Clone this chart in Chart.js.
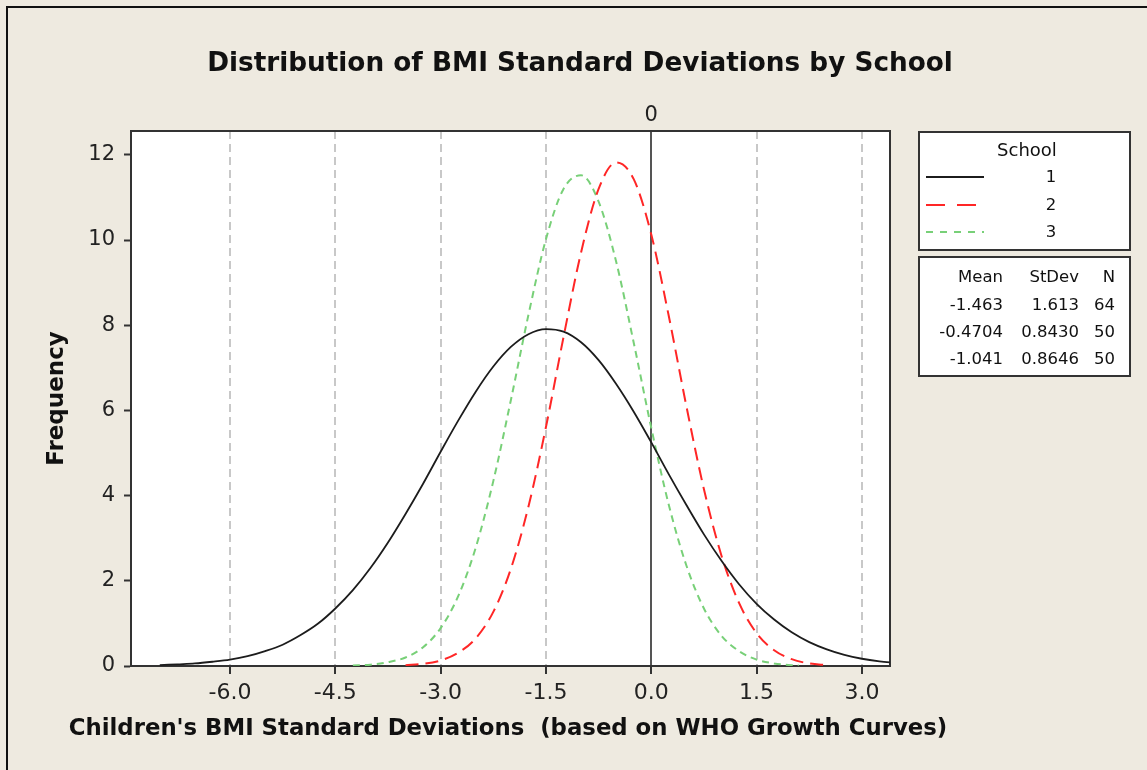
<!DOCTYPE html>
<html>
<head>
<meta charset="utf-8">
<script src="https://cdn.jsdelivr.net/npm/chart.js@4.4.1/dist/chart.umd.min.js"></script>
<style>
  html, body { margin: 0; padding: 0; background: #EEEAE0; }
  #wrap { position: relative; width: 1147px; height: 770px; background: #EEEAE0; overflow: hidden; font-family: "DejaVu Sans", Verdana, sans-serif; color: #111; }
  #frame { position: absolute; left: 6px; top: 6px; width: 1200px; height: 800px; border-left: 2px solid #111; border-top: 2px solid #111; pointer-events: none; }
  #chart { position: absolute; left: 0; top: 0; }
  #title { position: absolute; left: 0; width: 1160px; top: 46px; line-height: 32px; text-align: center; font-weight: bold; font-size: 26.3px; }
  #xtitle { position: absolute; left: 0; width: 1016px; top: 712px; line-height: 30px; text-align: center; font-weight: bold; font-size: 22.8px; white-space: pre; }
  .box { position: absolute; left: 918px; width: 209px; border: 2px solid #333; background: #fff; }
  .t { position: absolute; font-size: 16.5px; line-height: 20px; white-space: nowrap; }
</style>
</head>
<body>
<div id="wrap">
  <canvas id="chart" width="1147" height="770"></canvas>
  <div id="title">Distribution of BMI Standard Deviations by School</div>
  <div id="xtitle"></div>
  <div class="box" id="legendBox" style="top:131px;height:116px;"></div>
  <div class="box" id="statsBox" style="top:256px;height:117px;"></div>
  <div id="frame"></div>
</div>
<script>
// ---- Data ----
const schools = ['1', '2', '3'];
const means = ['-1.463', '-0.4704', '-1.041'];
const stdevs = ['1.613', '0.8430', '0.8646'];
const counts = ['64', '50', '50'];

const xTickValues = [-6.0, -4.5, -3.0, -1.5, 0.0, 1.5, 3.0];
const yTickValues = [0, 2, 4, 6, 8, 10, 12];
const refLineValues = [0];
const xAxisTitle = "Children's BMI Standard Deviations  (based on WHO Growth Curves)";
const yAxisTitle = 'Frequency';

// School 1 curve
const school1X = [-7.0, -6.75, -6.5, -6.25, -6.0, -5.75, -5.5, -5.25, -5.0, -4.75, -4.5, -4.25, -4.0, -3.75, -3.5, -3.25, -3.0, -2.75, -2.5, -2.25, -2.0, -1.75, -1.5, -1.25, -1.0, -0.75, -0.5, -0.25, 0.0, 0.25, 0.5, 0.75, 1.0, 1.25, 1.5, 1.75, 2.0, 2.25, 2.5, 2.75, 3.0, 3.25, 3.5];
const school1Y = [0.02, 0.04, 0.06, 0.10, 0.15, 0.23, 0.35, 0.50, 0.72, 0.99, 1.35, 1.78, 2.30, 2.90, 3.57, 4.28, 5.03, 5.76, 6.44, 7.03, 7.49, 7.79, 7.91, 7.85, 7.60, 7.18, 6.62, 5.97, 5.25, 4.50, 3.78, 3.09, 2.47, 1.92, 1.46, 1.09, 0.79, 0.56, 0.39, 0.26, 0.17, 0.11, 0.07];

// School 2 curve
const school2X = [-3.5, -3.25, -3.0, -2.75, -2.5, -2.25, -2.0, -1.75, -1.5, -1.25, -1.0, -0.75, -0.5, -0.25, 0.0, 0.25, 0.5, 0.75, 1.0, 1.25, 1.5, 1.75, 2.0, 2.25, 2.5];
const school2Y = [0.02, 0.05, 0.13, 0.31, 0.65, 1.27, 2.28, 3.74, 5.61, 7.72, 9.71, 11.20, 11.82, 11.43, 10.13, 8.21, 6.10, 4.15, 2.59, 1.48, 0.77, 0.37, 0.16, 0.06, 0.02];

// School 3 curve
const school3X = [-4.25, -4.0, -3.75, -3.5, -3.25, -3.0, -2.75, -2.5, -2.25, -2.0, -1.75, -1.5, -1.25, -1.0, -0.75, -0.5, -0.25, 0.0, 0.25, 0.5, 0.75, 1.0, 1.25, 1.5, 1.75, 2.0, 2.1];
const school3Y = [0.01, 0.03, 0.09, 0.20, 0.44, 0.89, 1.64, 2.78, 4.34, 6.24, 8.24, 10.02, 11.20, 11.52, 10.90, 9.49, 7.59, 5.59, 3.78, 2.36, 1.35, 0.71, 0.35, 0.15, 0.06, 0.02, 0.01];

// ---- Styles ----
const seriesStyles = [
  { color: '#1c1c1c', width: 1.8, dash: [] },
  { color: '#ff2626', width: 2, dash: [13, 7] },
  { color: '#78d078', width: 2, dash: [7, 5] }
];
const seriesX = [school1X, school2X, school3X];
const seriesY = [school1Y, school2Y, school3Y];

const FONT = '"DejaVu Sans", Verdana, sans-serif';

document.getElementById('xtitle').textContent = xAxisTitle;

const datasets = schools.map((s, i) => ({
  label: s,
  data: seriesX[i].map((x, j) => ({ x: x, y: seriesY[i][j] })),
  borderColor: seriesStyles[i].color,
  borderWidth: seriesStyles[i].width,
  borderDash: seriesStyles[i].dash,
  pointRadius: 0,
  fill: false,
  cubicInterpolationMode: 'monotone',
  xAxisID: 'x',
  yAxisID: 'y'
}));

const whiteArea = {
  id: 'whiteArea',
  beforeDraw(chart) {
    const a = chart.chartArea, ctx = chart.ctx;
    ctx.save();
    ctx.fillStyle = '#ffffff';
    ctx.fillRect(a.left, a.top, a.right - a.left, a.bottom - a.top);
    ctx.restore();
  }
};

new Chart(document.getElementById('chart'), {
  type: 'line',
  data: { datasets: datasets },
  plugins: [whiteArea],
  options: {
    responsive: false,
    animation: false,
    devicePixelRatio: 1,
    layout: { padding: 0 },
    plugins: { legend: { display: false }, tooltip: { enabled: false }, title: { display: false } },
    scales: {
      x: {
        type: 'linear', position: 'bottom', min: -7.41, max: 3.40,
        afterBuildTicks: s => { s.ticks = xTickValues.map(v => ({ value: v })); },
        afterFit: s => { s.height = 104; },
        ticks: { callback: v => Number(v).toFixed(1), font: { family: FONT, size: 22 }, color: '#222', padding: 6, maxRotation: 0, autoSkip: false },
        grid: { color: '#c8c8c8', lineWidth: 2, tickColor: '#333', tickLength: 8, tickWidth: 2, drawOnChartArea: true },
        border: { display: true, color: '#333', width: 2, dash: [8, 5] }
      },
      xt: {
        type: 'linear', position: 'top', min: -7.41, max: 3.40,
        afterBuildTicks: s => { s.ticks = refLineValues.map(v => ({ value: v })); },
        afterFit: s => { s.height = 131; },
        ticks: { callback: v => String(v), font: { family: FONT, size: 21 }, color: '#222', padding: 3, maxRotation: 0, autoSkip: false },
        grid: { color: '#555', lineWidth: 2, drawTicks: false, drawOnChartArea: true },
        border: { display: true, color: '#333', width: 2 }
      },
      y: {
        type: 'linear', position: 'left', min: 0, max: 12.56,
        afterBuildTicks: s => { s.ticks = yTickValues.map(v => ({ value: v })); },
        afterFit: s => { s.width = 131; },
        ticks: { font: { family: FONT, size: 21 }, color: '#222', padding: 9 },
        grid: { drawOnChartArea: false, tickLength: 7, tickWidth: 2, tickColor: '#333' },
        border: { display: true, color: '#333', width: 2 },
        title: { display: true, text: yAxisTitle, font: { family: FONT, size: 23, weight: 'bold' }, color: '#111', padding: { top: 43, bottom: 0 } }
      },
      yr: {
        type: 'linear', position: 'right', min: 0, max: 1,
        afterFit: s => { s.width = 257; },
        ticks: { display: false },
        grid: { display: false },
        border: { display: true, color: '#333', width: 2 }
      }
    }
  }
});

// ---- Legend and statistics boxes (HTML text) ----
const legendBox = document.getElementById('legendBox');
const statsBox = document.getElementById('statsBox');
function addText(parent, text, css) {
  const d = document.createElement('div');
  d.className = 't';
  d.textContent = text;
  d.style.cssText = css;
  parent.appendChild(d);
  return d;
}
addText(legendBox, 'School', 'left:0;width:214px;text-align:center;top:6px;font-size:18px;line-height:22px;');
const legendRows = [44, 72, 99];
schools.forEach((s, i) => {
  const svgNS = 'http://www.w3.org/2000/svg';
  const svg = document.createElementNS(svgNS, 'svg');
  svg.setAttribute('width', '60');
  svg.setAttribute('height', '6');
  svg.style.cssText = 'position:absolute;left:6px;top:' + (legendRows[i] - 3) + 'px;';
  const ln = document.createElementNS(svgNS, 'line');
  ln.setAttribute('x1', '0'); ln.setAttribute('x2', '58');
  ln.setAttribute('y1', '3'); ln.setAttribute('y2', '3');
  ln.setAttribute('stroke', seriesStyles[i].color);
  ln.setAttribute('stroke-width', '2');
  if (seriesStyles[i].dash.length) ln.setAttribute('stroke-dasharray', i === 1 ? '19,12' : '7,7');
  svg.appendChild(ln);
  legendBox.appendChild(svg);
  addText(legendBox, s, 'left:111px;width:40px;text-align:center;top:' + (legendRows[i] - 10) + 'px;');
});
const statRows = [19, 47, 74, 101];
const colRight = [83, 159, 195];
const header = ['Mean', 'StDev', 'N'];
header.forEach((h, c) => addText(statsBox, h, 'right:' + (209 - colRight[c]) + 'px;top:' + (statRows[0] - 10) + 'px;'));
schools.forEach((s, i) => {
  const vals = [means[i], stdevs[i], counts[i]];
  vals.forEach((v, c) => addText(statsBox, v, 'right:' + (209 - colRight[c]) + 'px;top:' + (statRows[i + 1] - 10) + 'px;'));
});
</script>
</body>
</html>
